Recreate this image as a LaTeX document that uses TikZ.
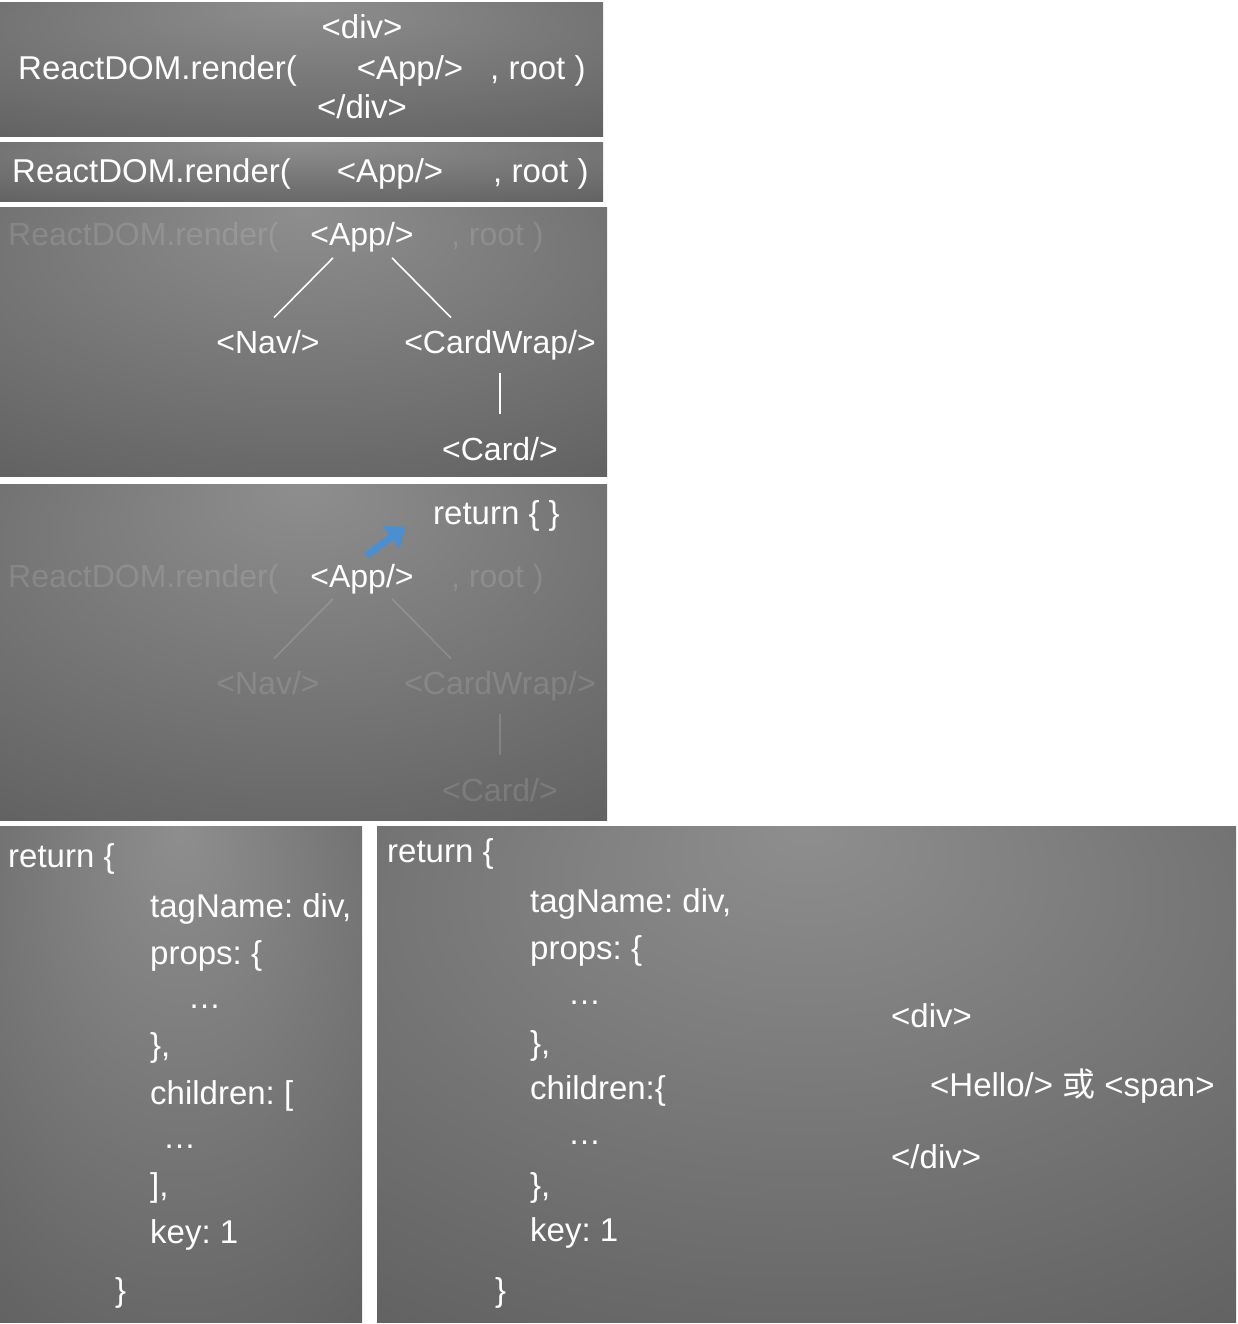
\documentclass[tikz,border=0pt]{standalone}
\usepackage{fontspec}
\setmainfont{Liberation Sans}
\newfontfamily\cjkfont{Noto Sans CJK SC}
\usetikzlibrary{positioning,arrows.meta}
\frenchspacing
\definecolor{bgLight}{HTML}{8E8E8E}
\definecolor{bgMid}{HTML}{6A6A6A}
\definecolor{bgDark}{HTML}{474747}
\definecolor{arrowBlue}{HTML}{4A8FD2}
\pgfdeclareradialshading{slidebg}{\pgfpoint{0bp}{25bp}}{color(0bp)=(bgLight); color(35bp)=(bgMid); color(70bp)=(bgDark)}

\begin{document}
\begin{tikzpicture}[x=1pt,y=-1pt,
    slide/.style={shading=slidebg},
    code/.style={text=white,inner sep=0pt,font=\fontsize{33}{40}\selectfont},
    treefont/.style={font=\fontsize{32}{38}\selectfont},
    faded/.style={text opacity=0.13},
    link/.style={draw=white,line width=1.6pt},
    fadedlink/.style={draw=white,draw opacity=0.15,line width=1.6pt}]
    \fill[white] (0,0) rectangle (1238,1324);
    \useasboundingbox (0,0) rectangle (1238,1324);
    % slide backgrounds
    \shade[slide] (0,3) rectangle (603,137);
    \shade[slide] (0,143) rectangle (603,202);
    \shade[slide] (0,208) rectangle (607,476);
    \shade[slide] (0,484) rectangle (607,820);
    \shade[slide] (0,826) rectangle (362,1322);
    \shade[slide] (377,826) rectangle (1236,1322);

    % render with a wrapping div
    \node[code,anchor=base west] (render1) at (18,80) {ReactDOM.render(};
    \node[code,anchor=base] (open1) at (362,39) {<div>};
    \node[code,anchor=base] (app1) at (410,80) {<App/>};
    \node[code,anchor=base west] (root1) at (490,80) {, root )};
    \node[code,anchor=base] (close1) at (362,119) {</div>};

    % render with the component alone
    \node[code,anchor=base west] (render2) at (12,183) {ReactDOM.render(};
    \node[code,anchor=base] (app2) at (390,183) {<App/>};
    \node[code,anchor=base west] (root2) at (493,183) {, root )};

    % component tree
    \node[code,treefont,faded,anchor=base west] (render3) at (8,246) {ReactDOM.render(};
    \node[code,treefont,anchor=base] (app3) at (362,246) {<App/>};
    \node[code,treefont,faded,anchor=base west] (root3) at (451,246) {, root )};
    \node[code,treefont,anchor=base] (nav3) at (268,353) {<Nav/>};
    \node[code,treefont,anchor=base] (wrap3) at (500,353) {<CardWrap/>};
    \node[code,treefont,anchor=base] (card3) at (500,460) {<Card/>};
    \draw[link] ([xshift=-29pt,yshift=-5pt]app3.south) -- ([xshift=6pt,yshift=12pt]nav3.north);
    \draw[link] ([xshift=30pt,yshift=-5pt]app3.south) -- ([xshift=-49pt,yshift=12pt]wrap3.north);
    \draw[link] ([yshift=-13pt]wrap3.south) -- ([yshift=23pt]card3.north);

    % the component returns an object
    \node[code,treefont,faded,anchor=base west] (render4) at (8,587) {ReactDOM.render(};
    \node[code,treefont,anchor=base] (app4) at (362,587) {<App/>};
    \node[code,treefont,faded,anchor=base west] (root4) at (451,587) {, root )};
    \node[code,treefont,faded,anchor=base] (nav4) at (268,694) {<Nav/>};
    \node[code,treefont,faded,anchor=base] (wrap4) at (500,694) {<CardWrap/>};
    \node[code,treefont,faded,anchor=base] (card4) at (500,801) {<Card/>};
    \draw[fadedlink] ([xshift=-29pt,yshift=-5pt]app4.south) -- ([xshift=6pt,yshift=12pt]nav4.north);
    \draw[fadedlink] ([xshift=30pt,yshift=-5pt]app4.south) -- ([xshift=-49pt,yshift=12pt]wrap4.north);
    \draw[fadedlink] ([yshift=-13pt]wrap4.south) -- ([yshift=23pt]card4.north);
    \node[code,anchor=base west] (ret4) at (433,524) {return \{ \}};
    \draw[arrowBlue,line width=7pt,-{Triangle[length=18pt,width=27pt]}]
        ([xshift=5pt,yshift=8pt]app4.north) -- ([xshift=-27pt,yshift=-3pt]ret4.base west);

    % object with an array of children
    \node[code,anchor=base west] (ret5) at (8,867) {return \{};
    \node[code,anchor=base west] (tag5) at (150,917) {tagName: div,};
    \node[code,anchor=base west] (props5) at (150,964) {props: \{};
    \node[code,anchor=base west] (pdots5) at (188,1008) {\dots};
    \node[code,anchor=base west] (pend5) at (150,1056) {\},};
    \node[code,anchor=base west] (kids5) at (150,1104) {children: [};
    \node[code,anchor=base west] (kdots5) at (163,1148) {\dots};
    \node[code,anchor=base west] (kend5) at (150,1196) {],};
    \node[code,anchor=base west] (key5) at (150,1243) {key: 1};
    \node[code,anchor=base west] (end5) at (115,1301) {\}};

    % object with a single child
    \node[code,anchor=base west] (ret6) at (387,862) {return \{};
    \node[code,anchor=base west] (tag6) at (530,912) {tagName: div,};
    \node[code,anchor=base west] (props6) at (530,959) {props: \{};
    \node[code,anchor=base west] (pdots6) at (568,1004) {\dots};
    \node[code,anchor=base west] (pend6) at (530,1054) {\},};
    \node[code,anchor=base west] (kids6) at (530,1099) {children:\{};
    \node[code,anchor=base west] (kdots6) at (568,1144) {\dots};
    \node[code,anchor=base west] (kend6) at (530,1196) {\},};
    \node[code,anchor=base west] (key6) at (530,1241) {key: 1};
    \node[code,anchor=base west] (end6) at (495,1301) {\}};
    \node[code,anchor=base west] (open6) at (891,1027) {<div>};
    \node[code,anchor=base west] (child6) at (930,1096) {<Hello/> {\cjkfont 或} <span>};
    \node[code,anchor=base west] (close6) at (891,1168) {</div>};
\end{tikzpicture}
\end{document}
